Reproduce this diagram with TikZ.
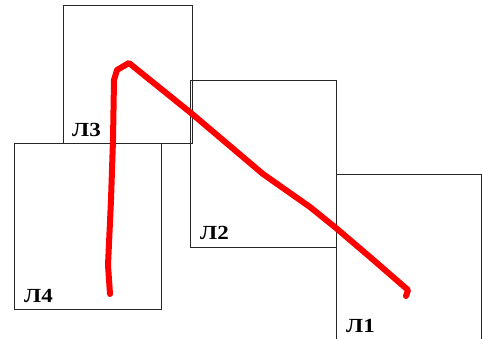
\documentclass[tikz,border=0pt]{standalone}
\usepackage{fontspec}
\setmainfont{Liberation Serif}
\newfontfamily\labfont[FakeStretch=1.15]{Liberation Serif}
\begin{document}
\begin{tikzpicture}[x=1pt,y=-1pt,
  sheet/.style={draw=black!85,line width=1pt,fill=none},
  lab/.style={anchor=base west,inner sep=0pt,font=\labfont\bfseries\fontsize{20}{20}\selectfont},
  stroke/.style={draw=red,line width=6pt,line join=round,line cap=round}]
\useasboundingbox (0,0) rectangle (482,338);
\clip (0,0) rectangle (482,338);
\draw[sheet] (63,5) rectangle (192,143);
\draw[sheet] (14,143) rectangle (161,309);
\draw[sheet] (190,80) rectangle (336,247);
\draw[sheet] (336,174) rectangle (481,360);
\node[lab] (l3) at (72,136) {Л3};
\node[lab] (l4) at (24,302) {Л4};
\node[lab] (l2) at (200,239) {Л2};
\node[lab] (l1) at (346,332) {Л1};
\draw[stroke] (110,294) -- (108,265) -- (111,200) -- (113,140) -- (114,80) -- (117,70) -- (129,63)
  -- (191,113) -- (263,174) -- (310,207) -- (336,228) -- (370,257) -- (408,290) -- (406,296);
\end{tikzpicture}
\end{document}
